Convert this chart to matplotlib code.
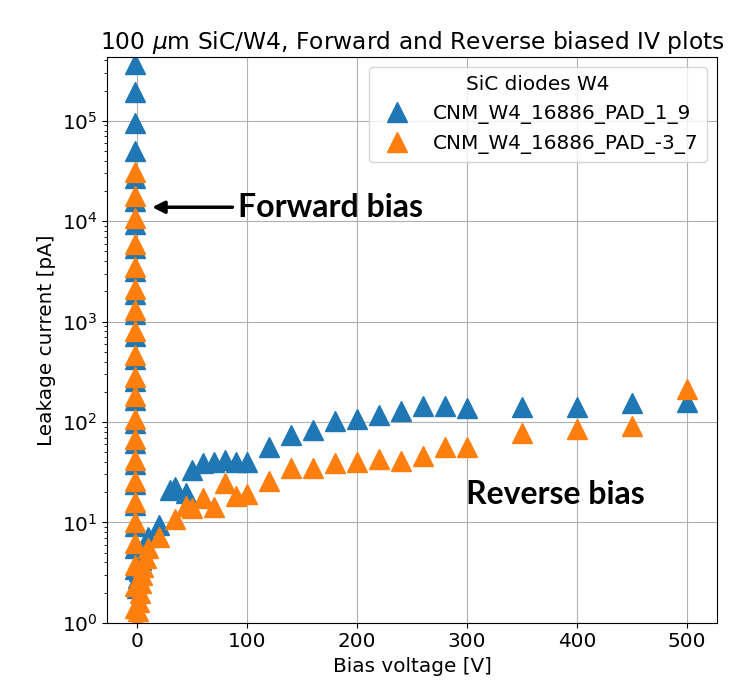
import numpy as np
import matplotlib
matplotlib.use("Agg")
import matplotlib.pyplot as plt

# forward bias sweep (small negative voltages), pA
fwd_v_19 = [-2, -2, -2, -2, -2, -2, -2, -2, -2, -2, -2, -2, -2, -2, -2, -2, -2, -2, -2, -2, -2, -2, -2]
fwd_i_19 = [3.7e5, 1.93e5, 9.5e4, 5.0e4, 2.7e4, 1.6e4, 9.4e3, 5.4e3, 3.2e3, 1.9e3, 1.2e3, 720,
            420, 255, 165, 97, 62, 38, 24, 15, 9.2, 5.6, 3.4]
fwd_v_37 = [-2, -2, -2, -2, -2, -2, -2, -2, -2, -2, -2, -2, -2, -2, -2, -2, -2, -2, -2, -2, -2]
fwd_i_37 = [3.1e4, 1.8e4, 1.07e4, 6.0e3, 3.5e3, 2.1e3, 1.3e3, 800, 460, 280, 180, 107,
            68, 42, 26, 16, 10, 6.2, 3.8, 2.3, 1.4]

# reverse bias sweep
rev_v_19 = [0, 1, 2, 4, 6, 8, 10, 20, 30, 35, 45, 50, 60, 70, 80, 90, 100,
            120, 140, 160, 180, 200, 220, 240, 260, 280, 300, 350, 400, 450, 500]
rev_i_19 = [2.2, 2.8, 3.3, 4.2, 5.0, 6.0, 7.2, 9.5, 21, 22.5, 19.5, 33, 39, 40, 41.5, 40, 40,
            56, 74, 83, 103, 108, 117, 130, 143, 145, 139, 142, 142, 153, 160]
rev_v_37 = [0, 1, 2, 3, 4, 5, 6, 8, 10, 20, 35, 45, 50, 60, 70, 80, 90, 100,
            120, 140, 160, 180, 200, 220, 240, 260, 280, 300, 350, 400, 450, 500]
rev_i_37 = [1.0, 1.3, 1.6, 2.0, 2.5, 3.0, 3.6, 4.4, 5.5, 7.1, 10.8, 14.5, 13.9, 17.4, 14.3, 24.6, 18.3, 19,
            25.7, 35, 34.6, 39, 40, 42.5, 41, 45.5, 56, 56, 78, 85, 91, 215]

v_19 = fwd_v_19 + rev_v_19
i_19 = fwd_i_19 + rev_i_19
v_37 = fwd_v_37 + rev_v_37
i_37 = fwd_i_37 + rev_i_37

FS = 14.4

fig = plt.figure(figsize=(7.33, 6.89), dpi=100)
ax = fig.add_axes([0.146, 0.0962, 0.832, 0.8206])

ax.plot(v_19, i_19, '^', color='#1f77b4', ms=14, label="CNM_W4_16886_PAD_1_9")
ax.plot(v_37, i_37, '^', color='#ff7f0e', ms=14, label="CNM_W4_16886_PAD_-3_7")

ax.set_yscale('log')
ax.set_xlim(-27, 527)
ax.set_ylim(1, 4.3e5)
ax.grid(True)
ax.tick_params(labelsize=FS)
ax.set_xlabel("Bias voltage [V]", fontsize=FS)
ax.set_ylabel("Leakage current [pA]", fontsize=FS)
ax.set_title(r"100 $\mu$m SiC/W4, Forward and Reverse biased IV plots", fontsize=16.8)

leg = ax.legend(title="SiC diodes W4", loc='upper right', fontsize=FS, title_fontsize=FS)

ax.annotate("Forward bias", xy=(14, 1.38e4), xytext=(92, 1.38e4),
            fontsize=23, fontweight='bold', family='Lato', va='center', ha='left',
            arrowprops=dict(arrowstyle='-|>', color='black', lw=2.5, mutation_scale=18,
                            shrinkA=2, shrinkB=0))
ax.text(380, 19.1, "Reverse bias", fontsize=23, fontweight='bold', family='Lato',
        va='center', ha='center')

fig.savefig("out.png", dpi=100)
